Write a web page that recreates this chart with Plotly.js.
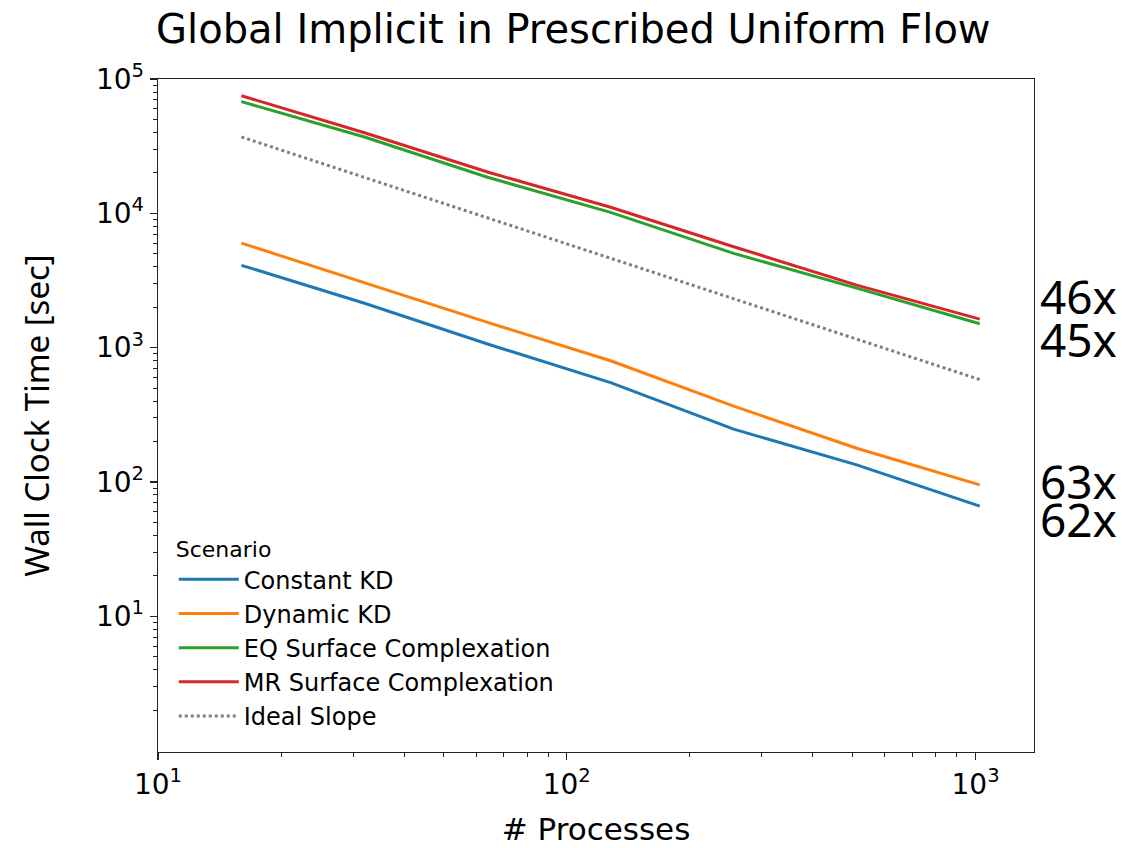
<!DOCTYPE html>
<html>
<head>
<meta charset="utf-8">
<script src="https://cdn.plot.ly/plotly-3.0.1.min.js"></script>
<style>
  html, body { margin: 0; padding: 0; background: #fff; }
  #chart { width: 1122px; height: 848px; }
</style>
</head>
<body>
<div id="chart"></div>
<script>
// Strong-scaling runs: wall clock time per scenario vs. process count
const processes = [16, 32, 64, 128, 256, 512, 1024];

const constantKD = [4100, 2140, 1064, 548, 247, 134, 66];
const dynamicKD  = [6000, 3040, 1541, 798, 367, 178, 95];
const eqSurface  = [67800, 37000, 18550, 10170, 5030, 2770, 1505];
const mrSurface  = [75000, 39800, 20300, 11100, 5640, 2920, 1630];
const idealSlope = [37000, 18500, 9250, 4625, 2312, 1156, 578];

const seriesNames  = ['Constant KD', 'Dynamic KD', 'EQ Surface Complexation', 'MR Surface Complexation', 'Ideal Slope'];
const seriesColors = ['#1f77b4', '#ff7f0e', '#2ca02c', '#d62728', '#7f7f7f'];

const xTickVals = [10, 100, 1000];
const xTickText = ['10<sup>1</sup>', '10<sup>2</sup>', '10<sup>3</sup>'];
const yTickVals = [10, 100, 1000, 10000, 100000];
const yTickText = ['10<sup>1</sup>', '10<sup>2</sup>', '10<sup>3</sup>', '10<sup>4</sup>', '10<sup>5</sup>'];

// minor log ticks 2..9 within each decade
function minorTicks(fromExp, toExp) {
  const out = [];
  for (let e = fromExp; e <= toExp; e++) {
    for (let m = 2; m <= 9; m++) out.push(m * Math.pow(10, e));
  }
  return out;
}

const allSeries = [constantKD, dynamicKD, eqSurface, mrSurface, idealSlope];
const traces = allSeries.map((vals, i) => ({
  type: 'scatter',
  mode: 'lines',
  x: processes,
  y: vals,
  name: seriesNames[i],
  line: {
    color: seriesColors[i],
    width: 3,
    dash: i === 4 ? 'dot' : 'solid'
  }
}));

// speedup labels (first / last time), stacked beside the right edge
const speedupSeries = [mrSurface, eqSurface, dynamicKD, constantKD];
const speedupY = [0.677, 0.613, 0.402, 0.346];
const annotations = speedupSeries.map((vals, i) => ({
  xref: 'paper', yref: 'paper',
  x: 1.005, y: speedupY[i],
  xanchor: 'left', yanchor: 'middle',
  showarrow: false,
  text: Math.round(vals[0] / vals[vals.length - 1]) + 'x',
  font: { family: 'Noto Sans, Open Sans, sans-serif', size: 46, color: '#000' }
}));

const axisCommon = {
  type: 'log',
  showgrid: false,
  zeroline: false,
  showline: true,
  linecolor: '#222',
  linewidth: 1.4,
  mirror: true,
  ticks: 'outside',
  ticklen: 7,
  tickwidth: 1.3,
  tickcolor: '#222',
  tickmode: 'array',
  tickfont: { family: 'DejaVu Sans, sans-serif', size: 28, color: '#000' }
};

const layout = {
  width: 1122,
  height: 848,
  paper_bgcolor: '#fff',
  plot_bgcolor: '#fff',
  margin: { l: 158, r: 88, t: 79, b: 96 },
  font: { family: 'DejaVu Sans, sans-serif', color: '#000' },
  title: {
    text: 'Global Implicit in Prescribed Uniform Flow',
    font: { family: 'DejaVu Sans, sans-serif', size: 40, color: '#000' },
    x: 0.511, xanchor: 'center', xref: 'container',
    y: 0.966, yanchor: 'middle', yref: 'container'
  },
  xaxis: Object.assign({}, axisCommon, {
    range: [1, 3.143],
    tickvals: xTickVals,
    ticktext: xTickText,
    minor: { tickmode: 'array', tickvals: minorTicks(1, 3), ticks: 'outside', ticklen: 4, tickwidth: 1, tickcolor: '#222', showgrid: false },
    title: { text: '# Processes', font: { family: 'DejaVu Sans, sans-serif', size: 31, color: '#000' }, standoff: 18 }
  }),
  yaxis: Object.assign({}, axisCommon, {
    range: [-0.011, 5],
    tickvals: yTickVals,
    ticktext: yTickText,
    minor: { tickmode: 'array', tickvals: minorTicks(0, 4), ticks: 'outside', ticklen: 4, tickwidth: 1, tickcolor: '#222', showgrid: false },
    title: { text: 'Wall Clock Time [sec]', font: { family: 'Noto Sans, DejaVu Sans, sans-serif', size: 33, color: '#000' }, standoff: 36 }
  }),
  showlegend: true,
  legend: {
    x: 0.018, y: 0.02,
    xanchor: 'left', yanchor: 'bottom',
    bgcolor: 'rgba(255,255,255,0)',
    borderwidth: 0,
    font: { family: 'DejaVu Sans, sans-serif', size: 24, color: '#000' },
    title: { text: 'Scenario', font: { family: 'DejaVu Sans, sans-serif', size: 22, color: '#000' } },
    itemwidth: 60
  },
  annotations: annotations
};

Plotly.newPlot('chart', traces, layout, { staticPlot: true, displayModeBar: false });
</script>
</body>
</html>
